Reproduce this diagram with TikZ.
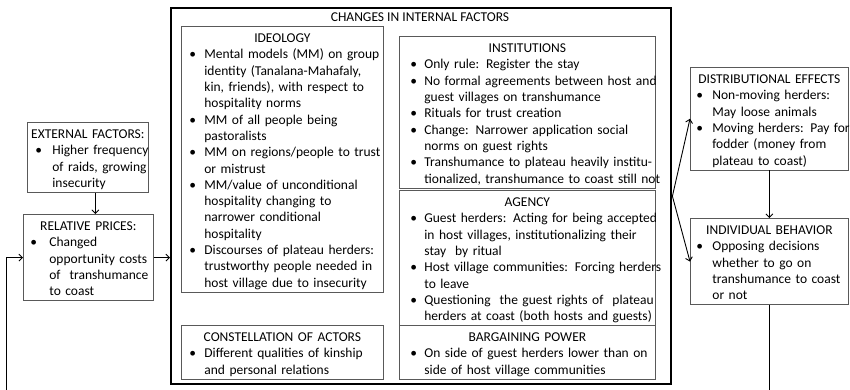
\documentclass[tikz,border=0pt]{standalone}
\usepackage{fontspec}
\setmainfont{Carlito}
\usetikzlibrary{arrows.meta}
\newlength\bulx
\newlength\txtx
\newlength\gapx
\newcommand\tline[1]{\par\noindent\hbox to\hsize{\hss\strut#1\hss}}
\newcommand\bline[1]{\par\noindent\hbox to\hsize{\hspace*{\bulx}\rlap{\textbullet}\hspace*{\gapx}\strut#1\hss}}
\newcommand\cont[1]{\par\noindent\hbox to\hsize{\hspace*{\txtx}\strut#1\hss}}
\begin{document}
\begin{tikzpicture}[x=1pt,y=-1pt,
  panel/.style={draw=black!65, line width=0.75pt, anchor=north west, inner xsep=0pt, inner ysep=0pt,
    font=\fontsize{13.5}{16.3}\selectfont},
  bul/.style 2 args={execute at begin node={\setlength{\parskip}{0pt}\setlength{\bulx}{#1}\setlength{\txtx}{#2}\setlength{\gapx}{\txtx}\addtolength{\gapx}{-\bulx}}},
  conn/.style={line width=0.9pt, -{Straight Barb[length=3.5pt,width=7pt]}},
  plain/.style={line width=0.9pt}]
\useasboundingbox (0,0) rectangle (850,390);

\node[draw, line width=2.4pt, minimum width=500pt, minimum height=376pt, inner sep=0pt, anchor=north west] (big) at (170,7) {};
\node[font=\fontsize{13.5}{16.3}\selectfont] (title) at (420,17) {CHANGES IN INTERNAL FACTORS};

\node[panel, bul={8pt}{25pt}, text width=121pt, minimum height=66pt] (ext) at (27,122) {%
\tline{EXTERNAL FACTORS:}
\bline{Higher frequency}
\cont{of raids, growing}
\cont{insecurity}};

\node[panel, bul={7pt}{26pt}, text width=130pt, minimum height=81pt] (rel) at (23,214) {%
\tline{RELATIVE PRICES:}
\bline{Changed}
\cont{opportunity costs}
\cont{of~ transhumance}
\cont{to coast}};

\node[panel, bul={8pt}{23pt}, text width=202pt, minimum height=263pt] (ideo) at (181,26) {%
\tline{IDEOLOGY}
\bline{Mental models (MM) on group}
\cont{identity (Tanalana-Mahafaly,}
\cont{kin, friends), with respect to}
\cont{hospitality norms}
\bline{MM of all people being}
\cont{pastoralists}
\bline{MM on regions/people to trust}
\cont{or mistrust}
\bline{MM/value of unconditional}
\cont{hospitality changing to}
\cont{narrower conditional}
\cont{hospitality}
\bline{Discourses of plateau herders:}
\cont{trustworthy people needed in}
\cont{host village due to insecurity}};

\node[panel, bul={8pt}{23pt}, text width=202pt, minimum height=51pt] (const) at (181,325) {%
\tline{CONSTELLATION OF ACTORS}
\bline{Different qualities of kinship}
\cont{and personal relations}};

\node[panel, bul={11pt}{25pt}, text width=256pt, minimum height=147pt] (inst) at (399,36) {%
\tline{INSTITUTIONS}
\bline{Only rule: Register the stay}
\bline{No formal agreements between host and}
\cont{guest villages on transhumance}
\bline{Rituals for trust creation}
\bline{Change: Narrower application social}
\cont{norms on guest rights}
\bline{Transhumance to plateau heavily institu-}
\cont{tionalized, transhumance to coast still not}};

\node[panel, bul={11pt}{25pt}, text width=256pt, minimum height=130pt] (agency) at (399,190) {%
\tline{AGENCY}
\bline{Guest herders: Acting for being accepted}
\cont{in host villages, institutionalizing their}
\cont{stay~ by ritual}
\bline{Host village communities: Forcing herders}
\cont{to leave}
\bline{Questioning~ the guest rights of~ plateau}
\cont{herders at coast (both hosts and guests)}};

\node[panel, bul={11pt}{25pt}, text width=256pt, minimum height=50pt] (barg) at (399,325) {%
\tline{BARGAINING POWER}
\bline{On side of guest herders lower than on}
\cont{side of host village communities}};

\node[panel, bul={6pt}{22pt}, text width=158pt, minimum height=97pt] (dist) at (690,67) {%
\tline{DISTRIBUTIONAL EFFECTS}
\bline{Non-moving herders:}
\cont{May loose animals}
\bline{Moving herders: Pay for}
\cont{fodder (money from}
\cont{plateau to coast)}};

\node[panel, bul={6pt}{22pt}, text width=158pt, minimum height=81pt] (indiv) at (690,218) {%
\tline{INDIVIDUAL BEHAVIOR}
\bline{Opposing decisions}
\cont{whether to go on}
\cont{transhumance to coast}
\cont{or not}};

\coordinate (fl) at (6,390);
\draw[conn] ([xshift=7.5pt]ext.south) -- ([xshift=7.5pt]ext.south |- rel.north);
\draw[conn] (rel.east) -- (rel.east -| big.west);
\draw[conn] (big.east) -- (dist.west);
\draw[conn] (big.east) -- (indiv.west);
\draw[conn] (dist.south) -- (indiv.north);
\draw[plain] (indiv.south) -- (indiv.south |- fl);
\draw[conn] (fl) |- (rel.west);
\end{tikzpicture}
\end{document}
